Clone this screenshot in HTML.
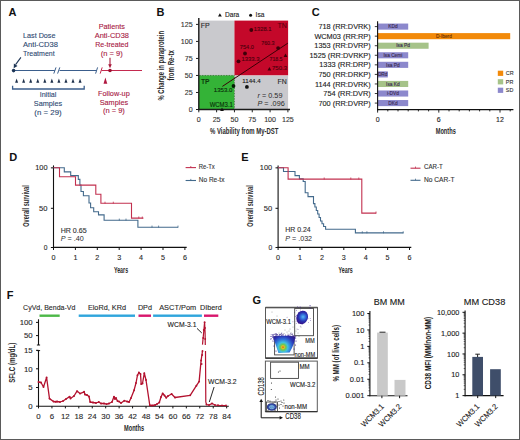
<!DOCTYPE html>
<html><head><meta charset="utf-8"><style>
html,body{margin:0;padding:0;background:#fff;}
body{width:520px;height:440px;overflow:hidden;}
svg{display:block;font-family:"Liberation Sans", sans-serif;}
</style></head><body>
<svg width="520" height="440" viewBox="0 0 520 440">
<rect x="0" y="0" width="520" height="440" fill="#fff"/>
<text x="8.60" y="16.00" font-size="11" fill="#111" font-weight="bold">A</text>
<text x="23.00" y="37.50" font-size="7.9" fill="#2f4a72" stroke="#2f4a72" stroke-width="0.12" textLength="32.50" lengthAdjust="spacingAndGlyphs">Last Dose</text>
<text x="23.00" y="46.80" font-size="7.9" fill="#2f4a72" stroke="#2f4a72" stroke-width="0.12" textLength="35.00" lengthAdjust="spacingAndGlyphs">Anti-CD38</text>
<text x="23.00" y="55.80" font-size="7.9" fill="#2f4a72" stroke="#2f4a72" stroke-width="0.12" textLength="31.60" lengthAdjust="spacingAndGlyphs">Treatment</text>
<line x1="20.90" y1="57.40" x2="15.60" y2="64.60" stroke="#1f3656" stroke-width="1.1"/>
<path d="M13.7,68.2 L13.9,63.6 L17.5,66.1 Z" fill="#1f3656"/>
<line x1="13.50" y1="70.50" x2="54.80" y2="70.50" stroke="#3b5e8c" stroke-width="1.2"/>
<line x1="59.50" y1="70.50" x2="96.50" y2="70.50" stroke="#3b5e8c" stroke-width="1.2"/>
<line x1="53.80" y1="73.60" x2="56.00" y2="67.40" stroke="#3b5e8c" stroke-width="1"/>
<line x1="57.60" y1="73.60" x2="59.80" y2="67.40" stroke="#3b5e8c" stroke-width="1"/>
<line x1="95.60" y1="73.60" x2="97.60" y2="67.40" stroke="#3b5e8c" stroke-width="1"/>
<line x1="100.20" y1="73.60" x2="102.20" y2="67.40" stroke="#c42a4f" stroke-width="1"/>
<line x1="101.50" y1="70.50" x2="142.00" y2="70.50" stroke="#c42a4f" stroke-width="1.2"/>
<circle cx="13.60" cy="70.60" r="1.8" fill="#1d3557"/>
<line x1="110.00" y1="57.80" x2="110.00" y2="65.00" stroke="#a8183a" stroke-width="1.1"/>
<path d="M108.2,64.2 L111.8,64.2 L110,68.3 Z" fill="#a8183a"/>
<circle cx="110.00" cy="70.50" r="1.8" fill="#9c1030"/>
<path d="M15.10,82.70 L16.60,78.50 L18.10,82.70 Z" fill="#1d2f4a"/>
<path d="M22.15,82.70 L23.65,78.50 L25.15,82.70 Z" fill="#1d2f4a"/>
<path d="M29.20,82.70 L30.70,78.50 L32.20,82.70 Z" fill="#1d2f4a"/>
<path d="M36.25,82.70 L37.75,78.50 L39.25,82.70 Z" fill="#1d2f4a"/>
<path d="M43.30,82.70 L44.80,78.50 L46.30,82.70 Z" fill="#1d2f4a"/>
<path d="M50.35,82.70 L51.85,78.50 L53.35,82.70 Z" fill="#1d2f4a"/>
<path d="M57.40,82.70 L58.90,78.50 L60.40,82.70 Z" fill="#1d2f4a"/>
<path d="M64.45,82.70 L65.95,78.50 L67.45,82.70 Z" fill="#1d2f4a"/>
<path d="M71.50,82.70 L73.00,78.50 L74.50,82.70 Z" fill="#1d2f4a"/>
<path d="M78.55,82.70 L80.05,78.50 L81.55,82.70 Z" fill="#1d2f4a"/>
<path d="M12.6,85.8 V89 H84.2 V85.8" stroke="#3b5e8c" stroke-width="1.3" fill="none"/>
<text x="48.00" y="97.00" font-size="7.9" fill="#2f4a72" stroke="#2f4a72" stroke-width="0.12" text-anchor="middle" textLength="16.60" lengthAdjust="spacingAndGlyphs">Initial</text>
<text x="48.00" y="106.00" font-size="7.9" fill="#2f4a72" stroke="#2f4a72" stroke-width="0.12" text-anchor="middle" textLength="28.40" lengthAdjust="spacingAndGlyphs">Samples</text>
<text x="48.00" y="115.00" font-size="7.9" fill="#2f4a72" stroke="#2f4a72" stroke-width="0.12" text-anchor="middle" textLength="27.30" lengthAdjust="spacingAndGlyphs">(n = 29)</text>
<text x="111.80" y="28.80" font-size="7.9" fill="#a82044" stroke="#a82044" stroke-width="0.12" text-anchor="middle" textLength="26.30" lengthAdjust="spacingAndGlyphs">Patients</text>
<text x="111.80" y="37.70" font-size="7.9" fill="#a82044" stroke="#a82044" stroke-width="0.12" text-anchor="middle" textLength="34.20" lengthAdjust="spacingAndGlyphs">Anti-CD38</text>
<text x="111.80" y="46.50" font-size="7.9" fill="#a82044" stroke="#a82044" stroke-width="0.12" text-anchor="middle" textLength="33.30" lengthAdjust="spacingAndGlyphs">Re-treated</text>
<text x="111.80" y="55.60" font-size="7.9" fill="#a82044" stroke="#a82044" stroke-width="0.12" text-anchor="middle" textLength="22.00" lengthAdjust="spacingAndGlyphs">(n = 9)</text>
<path d="M103.50,83.80 L105.40,77.60 L107.30,83.80 Z" fill="#b01840"/>
<text x="113.90" y="95.70" font-size="7.9" fill="#a82044" stroke="#a82044" stroke-width="0.12" text-anchor="middle" textLength="31.70" lengthAdjust="spacingAndGlyphs">Follow-up</text>
<text x="113.90" y="104.50" font-size="7.9" fill="#a82044" stroke="#a82044" stroke-width="0.12" text-anchor="middle" textLength="28.40" lengthAdjust="spacingAndGlyphs">Samples</text>
<text x="113.90" y="113.30" font-size="7.9" fill="#a82044" stroke="#a82044" stroke-width="0.12" text-anchor="middle" textLength="22.00" lengthAdjust="spacingAndGlyphs">(n = 9)</text>
<text x="156.50" y="16.00" font-size="11" fill="#111" font-weight="bold">B</text>
<rect x="198.80" y="20.60" width="35.64" height="54.86" fill="#c9c9cd"/>
<rect x="234.44" y="20.60" width="53.66" height="54.86" fill="#c4082a"/>
<rect x="198.80" y="75.46" width="35.64" height="34.04" fill="#34b337"/>
<rect x="234.44" y="75.46" width="53.66" height="34.04" fill="#c9c9cd"/>
<line x1="198.80" y1="75.46" x2="234.44" y2="75.46" stroke="#1a5a1a" stroke-width="0.8" stroke-dasharray="0.8 0.8"/>
<line x1="234.44" y1="75.46" x2="234.44" y2="109.50" stroke="#1a5a1a" stroke-width="0.8" stroke-dasharray="0.8 0.8"/>
<line x1="234.44" y1="75.46" x2="288.10" y2="75.46" stroke="#e8a0a8" stroke-width="0.6" stroke-dasharray="0.8 0.8"/>
<line x1="198.80" y1="18.00" x2="198.80" y2="110.20" stroke="#1a1a1a" stroke-width="1.4"/>
<line x1="198.10" y1="109.50" x2="290.00" y2="109.50" stroke="#1a1a1a" stroke-width="1.4"/>
<line x1="196.00" y1="109.50" x2="198.80" y2="109.50" stroke="#222" stroke-width="1"/>
<text x="192.70" y="112.00" font-size="7.1" fill="#333" stroke="#333" stroke-width="0.12" text-anchor="end">0</text>
<line x1="198.80" y1="109.50" x2="198.80" y2="112.30" stroke="#222" stroke-width="1"/>
<text x="198.80" y="121.90" font-size="7.1" fill="#333" stroke="#333" stroke-width="0.12" text-anchor="middle">0</text>
<line x1="196.00" y1="92.48" x2="198.80" y2="92.48" stroke="#222" stroke-width="1"/>
<text x="192.70" y="94.98" font-size="7.1" fill="#333" stroke="#333" stroke-width="0.12" text-anchor="end">25</text>
<line x1="216.62" y1="109.50" x2="216.62" y2="112.30" stroke="#222" stroke-width="1"/>
<text x="216.62" y="121.90" font-size="7.1" fill="#333" stroke="#333" stroke-width="0.12" text-anchor="middle">25</text>
<line x1="196.00" y1="75.46" x2="198.80" y2="75.46" stroke="#222" stroke-width="1"/>
<text x="192.70" y="77.96" font-size="7.1" fill="#333" stroke="#333" stroke-width="0.12" text-anchor="end">50</text>
<line x1="234.44" y1="109.50" x2="234.44" y2="112.30" stroke="#222" stroke-width="1"/>
<text x="234.44" y="121.90" font-size="7.1" fill="#333" stroke="#333" stroke-width="0.12" text-anchor="middle">50</text>
<line x1="196.00" y1="58.44" x2="198.80" y2="58.44" stroke="#222" stroke-width="1"/>
<text x="192.70" y="60.94" font-size="7.1" fill="#333" stroke="#333" stroke-width="0.12" text-anchor="end">75</text>
<line x1="252.26" y1="109.50" x2="252.26" y2="112.30" stroke="#222" stroke-width="1"/>
<text x="252.26" y="121.90" font-size="7.1" fill="#333" stroke="#333" stroke-width="0.12" text-anchor="middle">75</text>
<line x1="196.00" y1="41.42" x2="198.80" y2="41.42" stroke="#222" stroke-width="1"/>
<text x="192.70" y="43.92" font-size="7.1" fill="#333" stroke="#333" stroke-width="0.12" text-anchor="end">100</text>
<line x1="270.08" y1="109.50" x2="270.08" y2="112.30" stroke="#222" stroke-width="1"/>
<text x="270.08" y="121.90" font-size="7.1" fill="#333" stroke="#333" stroke-width="0.12" text-anchor="middle">100</text>
<line x1="196.00" y1="24.40" x2="198.80" y2="24.40" stroke="#222" stroke-width="1"/>
<text x="192.70" y="26.90" font-size="7.1" fill="#333" stroke="#333" stroke-width="0.12" text-anchor="end">125</text>
<line x1="287.90" y1="109.50" x2="287.90" y2="112.30" stroke="#222" stroke-width="1"/>
<text x="287.90" y="121.90" font-size="7.1" fill="#333" stroke="#333" stroke-width="0.12" text-anchor="middle">125</text>
<line x1="222.40" y1="86.40" x2="287.80" y2="43.20" stroke="#3a0006" stroke-width="1"/>
<text x="200.80" y="27.90" font-size="7" fill="#2a2a2a" stroke="#2a2a2a" stroke-width="0.12">FP</text>
<text x="277.40" y="27.60" font-size="7" fill="#5a0010" stroke="#5a0010" stroke-width="0.12">TN</text>
<text x="201.00" y="83.50" font-size="7.2" fill="#0c3a0c" textLength="8.60" lengthAdjust="spacingAndGlyphs" font-weight="bold">TP</text>
<text x="277.40" y="83.50" font-size="7" fill="#2a2a2a" stroke="#2a2a2a" stroke-width="0.12">FN</text>
<path d="M218.00,16.60 L219.90,13.30 L221.80,16.60 Z" fill="#111"/>
<text x="225.00" y="17.00" font-size="6.6" fill="#222" stroke="#222" stroke-width="0.12">Dara</text>
<circle cx="250.60" cy="15.20" r="1.5" fill="#111"/>
<text x="255.60" y="17.20" font-size="6.6" fill="#222" stroke="#222" stroke-width="0.12">Isa</text>
<circle cx="251.30" cy="30.00" r="1.9" fill="#3d0008"/>
<circle cx="245.00" cy="53.50" r="1.9" fill="#3d0008"/>
<circle cx="238.50" cy="61.30" r="1.9" fill="#3d0008"/>
<circle cx="278.10" cy="48.10" r="1.9" fill="#3d0008"/>
<circle cx="233.50" cy="86.00" r="1.9" fill="#061f06"/>
<circle cx="246.90" cy="86.90" r="1.9" fill="#111"/>
<path d="M283.60,57.00 L285.50,53.40 L287.40,57.00 Z" fill="#3d0008"/>
<path d="M267.50,70.60 L269.40,67.00 L271.30,70.60 Z" fill="#3d0008"/>
<path d="M220.10,111.00 L222.00,107.60 L223.90,111.00 Z" fill="#111"/>
<text x="253.80" y="31.30" font-size="5.8" fill="#4a000c" stroke="#4a000c" stroke-width="0.12" textLength="17.60" lengthAdjust="spacingAndGlyphs">1328.1</text>
<text x="239.80" y="48.80" font-size="5.8" fill="#4a000c" stroke="#4a000c" stroke-width="0.12" textLength="14.00" lengthAdjust="spacingAndGlyphs">754.0</text>
<text x="241.50" y="60.50" font-size="5.8" fill="#4a000c" stroke="#4a000c" stroke-width="0.12" textLength="18.00" lengthAdjust="spacingAndGlyphs">1333.3</text>
<text x="261.20" y="45.30" font-size="5.8" fill="#4a000c" stroke="#4a000c" stroke-width="0.12" textLength="13.30" lengthAdjust="spacingAndGlyphs">760.3</text>
<text x="269.50" y="60.80" font-size="5.8" fill="#4a000c" stroke="#4a000c" stroke-width="0.12" textLength="13.00" lengthAdjust="spacingAndGlyphs">718.5</text>
<text x="272.00" y="70.00" font-size="5.8" fill="#4a000c" stroke="#4a000c" stroke-width="0.12" textLength="15.00" lengthAdjust="spacingAndGlyphs">750.3</text>
<text x="213.80" y="92.30" font-size="5.8" fill="#082e08" stroke="#082e08" stroke-width="0.12" textLength="18.50" lengthAdjust="spacingAndGlyphs">1353.0</text>
<text x="209.70" y="107.10" font-size="6.6" fill="#082e08" stroke="#082e08" stroke-width="0.12" textLength="23.20" lengthAdjust="spacingAndGlyphs">WCM3.1</text>
<text x="242.30" y="83.10" font-size="5.8" fill="#1a1a1a" stroke="#1a1a1a" stroke-width="0.12" textLength="18.30" lengthAdjust="spacingAndGlyphs">1144.4</text>
<text x="257.5" y="97.5" font-size="7.2" fill="#2a2a2a" textLength="25" lengthAdjust="spacingAndGlyphs"><tspan font-style="italic">r</tspan> = 0.59</text>
<text x="257.5" y="106.3" font-size="7.2" fill="#2a2a2a" textLength="27.2" lengthAdjust="spacingAndGlyphs"><tspan font-style="italic">P</tspan> = .096</text>
<text x="210.00" y="134.40" font-size="8.8" fill="#2a2a2a" textLength="68.50" lengthAdjust="spacingAndGlyphs" font-weight="bold">% Viability from My-DST</text>
<text x="164.30" y="100.60" font-size="8.6" fill="#2a2a2a" textLength="69.70" lengthAdjust="spacingAndGlyphs" font-weight="bold" transform="rotate(-90 164.30 100.60)">% Change in paraprotein</text>
<text x="174.00" y="80.50" font-size="8.6" fill="#2a2a2a" textLength="30.30" lengthAdjust="spacingAndGlyphs" font-weight="bold" transform="rotate(-90 174.00 80.50)">from Re-tx</text>
<text x="311.80" y="16.00" font-size="11" fill="#111" font-weight="bold">C</text>
<rect x="377.60" y="23.55" width="30.60" height="6.10" fill="#8c88cc"/>
<text x="370.70" y="29.20" font-size="7.35" fill="#222" stroke="#222" stroke-width="0.12" text-anchor="end">718 (RR:DVRK)</text>
<line x1="374.80" y1="26.60" x2="377.60" y2="26.60" stroke="#222" stroke-width="0.9"/>
<text x="392.90" y="28.30" font-size="4.8" fill="#3a2a50" stroke="#3a2a50" stroke-width="0.12" text-anchor="middle">KDd</text>
<rect x="377.60" y="33.11" width="132.60" height="6.10" fill="#f28a0a"/>
<text x="370.70" y="38.76" font-size="7.35" fill="#222" stroke="#222" stroke-width="0.12" text-anchor="end">WCM03 (RR:RP)</text>
<line x1="374.80" y1="36.16" x2="377.60" y2="36.16" stroke="#222" stroke-width="0.9"/>
<text x="443.90" y="37.86" font-size="4.8" fill="#6a3000" stroke="#6a3000" stroke-width="0.12" text-anchor="middle">D-Iberd</text>
<rect x="377.60" y="42.67" width="51.00" height="6.10" fill="#a6c389"/>
<text x="370.70" y="48.32" font-size="7.35" fill="#222" stroke="#222" stroke-width="0.12" text-anchor="end">1353 (RR:DVRP)</text>
<line x1="374.80" y1="45.72" x2="377.60" y2="45.72" stroke="#222" stroke-width="0.9"/>
<text x="403.10" y="47.42" font-size="4.8" fill="#3a2a50" stroke="#3a2a50" stroke-width="0.12" text-anchor="middle">Isa Pd</text>
<rect x="377.60" y="52.23" width="30.60" height="6.10" fill="#8c88cc"/>
<text x="370.70" y="57.88" font-size="7.35" fill="#222" stroke="#222" stroke-width="0.12" text-anchor="end">1525 (RR:DVRKP)</text>
<line x1="374.80" y1="55.28" x2="377.60" y2="55.28" stroke="#222" stroke-width="0.9"/>
<text x="392.90" y="56.98" font-size="4.8" fill="#3a2a50" stroke="#3a2a50" stroke-width="0.12" text-anchor="middle">Isa Cemi</text>
<rect x="377.60" y="61.79" width="30.60" height="6.10" fill="#8c88cc"/>
<text x="370.70" y="67.44" font-size="7.35" fill="#222" stroke="#222" stroke-width="0.12" text-anchor="end">1333 (RR:DRP)</text>
<line x1="374.80" y1="64.84" x2="377.60" y2="64.84" stroke="#222" stroke-width="0.9"/>
<text x="392.90" y="66.54" font-size="4.8" fill="#3a2a50" stroke="#3a2a50" stroke-width="0.12" text-anchor="middle">Isa Pd</text>
<rect x="377.60" y="71.35" width="10.20" height="6.10" fill="#8c88cc"/>
<text x="370.70" y="77.00" font-size="7.35" fill="#222" stroke="#222" stroke-width="0.12" text-anchor="end">750 (RR:DRKP)</text>
<line x1="374.80" y1="74.40" x2="377.60" y2="74.40" stroke="#222" stroke-width="0.9"/>
<text x="382.70" y="76.10" font-size="4.8" fill="#3a2a50" stroke="#3a2a50" stroke-width="0.12" text-anchor="middle">DRd</text>
<rect x="377.60" y="80.91" width="30.60" height="6.10" fill="#a6c389"/>
<text x="370.70" y="86.56" font-size="7.35" fill="#222" stroke="#222" stroke-width="0.12" text-anchor="end">1144 (RR:DVRK)</text>
<line x1="374.80" y1="83.96" x2="377.60" y2="83.96" stroke="#222" stroke-width="0.9"/>
<text x="392.90" y="85.66" font-size="4.8" fill="#3a2a50" stroke="#3a2a50" stroke-width="0.12" text-anchor="middle">Isa Kd</text>
<rect x="377.60" y="90.47" width="30.60" height="6.10" fill="#8c88cc"/>
<text x="370.70" y="96.12" font-size="7.35" fill="#222" stroke="#222" stroke-width="0.12" text-anchor="end">754 (RR:DVR)</text>
<line x1="374.80" y1="93.52" x2="377.60" y2="93.52" stroke="#222" stroke-width="0.9"/>
<text x="392.90" y="95.22" font-size="4.8" fill="#3a2a50" stroke="#3a2a50" stroke-width="0.12" text-anchor="middle">i-DVd</text>
<rect x="377.60" y="100.03" width="30.60" height="6.10" fill="#8c88cc"/>
<text x="370.70" y="105.68" font-size="7.35" fill="#222" stroke="#222" stroke-width="0.12" text-anchor="end">700 (RR:DVRP)</text>
<line x1="374.80" y1="103.08" x2="377.60" y2="103.08" stroke="#222" stroke-width="0.9"/>
<text x="392.90" y="104.78" font-size="4.8" fill="#3a2a50" stroke="#3a2a50" stroke-width="0.12" text-anchor="middle">DKd</text>
<line x1="377.60" y1="21.20" x2="377.60" y2="110.20" stroke="#111" stroke-width="1.1"/>
<line x1="377.10" y1="109.60" x2="513.40" y2="109.60" stroke="#111" stroke-width="1.1"/>
<line x1="377.60" y1="109.60" x2="377.60" y2="112.60" stroke="#111" stroke-width="0.9"/>
<line x1="387.80" y1="109.60" x2="387.80" y2="111.40" stroke="#111" stroke-width="0.9"/>
<line x1="398.00" y1="109.60" x2="398.00" y2="111.40" stroke="#111" stroke-width="0.9"/>
<line x1="408.20" y1="109.60" x2="408.20" y2="111.40" stroke="#111" stroke-width="0.9"/>
<line x1="418.40" y1="109.60" x2="418.40" y2="111.40" stroke="#111" stroke-width="0.9"/>
<line x1="428.60" y1="109.60" x2="428.60" y2="111.40" stroke="#111" stroke-width="0.9"/>
<line x1="438.80" y1="109.60" x2="438.80" y2="112.60" stroke="#111" stroke-width="0.9"/>
<line x1="449.00" y1="109.60" x2="449.00" y2="111.40" stroke="#111" stroke-width="0.9"/>
<line x1="459.20" y1="109.60" x2="459.20" y2="111.40" stroke="#111" stroke-width="0.9"/>
<line x1="469.40" y1="109.60" x2="469.40" y2="111.40" stroke="#111" stroke-width="0.9"/>
<line x1="479.60" y1="109.60" x2="479.60" y2="111.40" stroke="#111" stroke-width="0.9"/>
<line x1="489.80" y1="109.60" x2="489.80" y2="111.40" stroke="#111" stroke-width="0.9"/>
<line x1="500.00" y1="109.60" x2="500.00" y2="112.60" stroke="#111" stroke-width="0.9"/>
<line x1="510.20" y1="109.60" x2="510.20" y2="111.40" stroke="#111" stroke-width="0.9"/>
<text x="377.60" y="121.50" font-size="7" fill="#222" stroke="#222" stroke-width="0.12" text-anchor="middle">0</text>
<text x="438.80" y="121.50" font-size="7" fill="#222" stroke="#222" stroke-width="0.12" text-anchor="middle">6</text>
<text x="500.00" y="121.50" font-size="7" fill="#222" stroke="#222" stroke-width="0.12" text-anchor="middle">12</text>
<text x="435.70" y="134.40" font-size="8.4" fill="#2a2a2a" textLength="20.10" lengthAdjust="spacingAndGlyphs" font-weight="bold">Months</text>
<rect x="497.80" y="70.70" width="5.40" height="5.20" fill="#f28a0a"/>
<text x="505.80" y="75.20" font-size="5.4" fill="#333" stroke="#333" stroke-width="0.12">CR</text>
<rect x="497.80" y="79.20" width="5.40" height="5.20" fill="#a6c389"/>
<text x="505.80" y="83.70" font-size="5.4" fill="#333" stroke="#333" stroke-width="0.12">PR</text>
<rect x="497.80" y="87.70" width="5.40" height="5.20" fill="#8c88cc"/>
<text x="505.80" y="92.20" font-size="5.4" fill="#333" stroke="#333" stroke-width="0.12">SD</text>
<text x="9.30" y="161.00" font-size="11" fill="#111" font-weight="bold">D</text>
<line x1="53.50" y1="165.40" x2="53.50" y2="248.00" stroke="#111" stroke-width="1.1"/>
<line x1="53.00" y1="247.40" x2="186.70" y2="247.40" stroke="#111" stroke-width="1.1"/>
<line x1="50.90" y1="167.85" x2="53.50" y2="167.85" stroke="#111" stroke-width="1"/>
<text x="47.50" y="170.35" font-size="7.2" fill="#2a2a2a" stroke="#2a2a2a" stroke-width="0.12" text-anchor="end" textLength="12.30" lengthAdjust="spacingAndGlyphs">100</text>
<line x1="50.90" y1="208.30" x2="53.50" y2="208.30" stroke="#111" stroke-width="1"/>
<text x="47.50" y="210.80" font-size="7.2" fill="#2a2a2a" stroke="#2a2a2a" stroke-width="0.12" text-anchor="end" textLength="8.40" lengthAdjust="spacingAndGlyphs">50</text>
<line x1="50.90" y1="247.50" x2="53.50" y2="247.50" stroke="#111" stroke-width="1"/>
<text x="47.50" y="250.00" font-size="7.2" fill="#2a2a2a" stroke="#2a2a2a" stroke-width="0.12" text-anchor="end" textLength="3.70" lengthAdjust="spacingAndGlyphs">0</text>
<line x1="53.50" y1="247.40" x2="53.50" y2="250.00" stroke="#111" stroke-width="1"/>
<text x="53.50" y="259.60" font-size="7.2" fill="#2a2a2a" stroke="#2a2a2a" stroke-width="0.12" text-anchor="middle">0</text>
<line x1="75.40" y1="247.40" x2="75.40" y2="250.00" stroke="#111" stroke-width="1"/>
<text x="75.40" y="259.60" font-size="7.2" fill="#2a2a2a" stroke="#2a2a2a" stroke-width="0.12" text-anchor="middle">1</text>
<line x1="97.30" y1="247.40" x2="97.30" y2="250.00" stroke="#111" stroke-width="1"/>
<text x="97.30" y="259.60" font-size="7.2" fill="#2a2a2a" stroke="#2a2a2a" stroke-width="0.12" text-anchor="middle">2</text>
<line x1="119.20" y1="247.40" x2="119.20" y2="250.00" stroke="#111" stroke-width="1"/>
<text x="119.20" y="259.60" font-size="7.2" fill="#2a2a2a" stroke="#2a2a2a" stroke-width="0.12" text-anchor="middle">3</text>
<line x1="141.10" y1="247.40" x2="141.10" y2="250.00" stroke="#111" stroke-width="1"/>
<text x="141.10" y="259.60" font-size="7.2" fill="#2a2a2a" stroke="#2a2a2a" stroke-width="0.12" text-anchor="middle">4</text>
<line x1="163.00" y1="247.40" x2="163.00" y2="250.00" stroke="#111" stroke-width="1"/>
<text x="163.00" y="259.60" font-size="7.2" fill="#2a2a2a" stroke="#2a2a2a" stroke-width="0.12" text-anchor="middle">5</text>
<line x1="184.90" y1="247.40" x2="184.90" y2="250.00" stroke="#111" stroke-width="1"/>
<text x="184.90" y="259.60" font-size="7.2" fill="#2a2a2a" stroke="#2a2a2a" stroke-width="0.12" text-anchor="middle">6</text>
<text x="113.90" y="272.70" font-size="8.4" fill="#2a2a2a" textLength="14.20" lengthAdjust="spacingAndGlyphs" font-weight="bold">Years</text>
<text x="28.90" y="226.70" font-size="8.4" fill="#2a2a2a" textLength="41.40" lengthAdjust="spacingAndGlyphs" font-weight="bold" transform="rotate(-90 28.90 226.70)">Overall survival</text>
<path d="M53.50,167.70 L64.30,167.70 L64.30,171.90 L70.70,171.90 L70.70,175.60 L78.30,175.60 L78.30,179.40 L79.90,179.40 L79.90,185.10 L81.00,185.10 L81.00,191.50 L83.40,191.50 L83.40,195.80 L89.00,195.80 L89.00,203.00 L90.60,203.00 L90.60,207.70 L93.70,207.70 L93.70,211.70 L98.50,211.70 L98.50,214.90 L104.10,214.90 L104.10,220.20 L137.90,220.20 L137.90,227.20 L178.10,227.20" stroke="#436a8c" stroke-width="1.1" fill="none"/>
<path d="M53.50,167.70 L59.50,167.70 L59.50,176.70 L75.50,176.70 L75.50,185.10 L95.80,185.10 L95.80,194.20 L100.90,194.20 L100.90,203.30 L131.50,203.30 L131.50,218.10 L143.40,218.10" stroke="#c2304f" stroke-width="1.1" fill="none"/>
<line x1="105.00" y1="201.70" x2="105.00" y2="203.70" stroke="#c2304f" stroke-width="0.8"/>
<line x1="113.30" y1="201.70" x2="113.30" y2="203.70" stroke="#c2304f" stroke-width="0.8"/>
<line x1="138.80" y1="216.50" x2="138.80" y2="218.50" stroke="#c2304f" stroke-width="0.8"/>
<line x1="142.30" y1="216.50" x2="142.30" y2="218.50" stroke="#c2304f" stroke-width="0.8"/>
<line x1="119.30" y1="218.60" x2="119.30" y2="220.60" stroke="#436a8c" stroke-width="0.8"/>
<line x1="126.00" y1="218.60" x2="126.00" y2="220.60" stroke="#436a8c" stroke-width="0.8"/>
<line x1="152.00" y1="225.60" x2="152.00" y2="227.60" stroke="#436a8c" stroke-width="0.8"/>
<line x1="158.60" y1="225.60" x2="158.60" y2="227.60" stroke="#436a8c" stroke-width="0.8"/>
<line x1="178.00" y1="225.60" x2="178.00" y2="227.60" stroke="#436a8c" stroke-width="0.8"/>
<text x="60.70" y="233.20" font-size="6.8" fill="#333" stroke="#333" stroke-width="0.12" textLength="25.90" lengthAdjust="spacingAndGlyphs">HR 0.65</text>
<text x="60.7" y="241" font-size="7" fill="#2a2a2a" textLength="23" lengthAdjust="spacingAndGlyphs"><tspan font-style="italic">P</tspan> = .40</text>
<line x1="185.60" y1="167.60" x2="196.00" y2="167.60" stroke="#c2304f" stroke-width="1.1"/>
<line x1="190.80" y1="166.00" x2="190.80" y2="167.60" stroke="#c2304f" stroke-width="0.8"/>
<text x="198.80" y="169.20" font-size="6.8" fill="#333" stroke="#333" stroke-width="0.12" textLength="16.00" lengthAdjust="spacingAndGlyphs">Re-Tx</text>
<line x1="185.60" y1="180.50" x2="196.00" y2="180.50" stroke="#436a8c" stroke-width="1.1"/>
<line x1="190.80" y1="178.90" x2="190.80" y2="180.50" stroke="#436a8c" stroke-width="0.8"/>
<text x="198.80" y="182.00" font-size="6.8" fill="#333" stroke="#333" stroke-width="0.12" textLength="25.60" lengthAdjust="spacingAndGlyphs">No Re-tx</text>
<text x="241.20" y="161.00" font-size="11" fill="#111" font-weight="bold">E</text>
<line x1="278.10" y1="165.40" x2="278.10" y2="248.00" stroke="#111" stroke-width="1.1"/>
<line x1="277.60" y1="247.40" x2="411.30" y2="247.40" stroke="#111" stroke-width="1.1"/>
<line x1="275.50" y1="167.85" x2="278.10" y2="167.85" stroke="#111" stroke-width="1"/>
<text x="272.10" y="170.35" font-size="7.2" fill="#2a2a2a" stroke="#2a2a2a" stroke-width="0.12" text-anchor="end" textLength="12.30" lengthAdjust="spacingAndGlyphs">100</text>
<line x1="275.50" y1="208.30" x2="278.10" y2="208.30" stroke="#111" stroke-width="1"/>
<text x="272.10" y="210.80" font-size="7.2" fill="#2a2a2a" stroke="#2a2a2a" stroke-width="0.12" text-anchor="end" textLength="8.40" lengthAdjust="spacingAndGlyphs">50</text>
<line x1="275.50" y1="247.50" x2="278.10" y2="247.50" stroke="#111" stroke-width="1"/>
<text x="272.10" y="250.00" font-size="7.2" fill="#2a2a2a" stroke="#2a2a2a" stroke-width="0.12" text-anchor="end" textLength="3.70" lengthAdjust="spacingAndGlyphs">0</text>
<line x1="278.10" y1="247.40" x2="278.10" y2="250.00" stroke="#111" stroke-width="1"/>
<text x="278.10" y="259.60" font-size="7.2" fill="#2a2a2a" stroke="#2a2a2a" stroke-width="0.12" text-anchor="middle">0</text>
<line x1="300.00" y1="247.40" x2="300.00" y2="250.00" stroke="#111" stroke-width="1"/>
<text x="300.00" y="259.60" font-size="7.2" fill="#2a2a2a" stroke="#2a2a2a" stroke-width="0.12" text-anchor="middle">1</text>
<line x1="321.90" y1="247.40" x2="321.90" y2="250.00" stroke="#111" stroke-width="1"/>
<text x="321.90" y="259.60" font-size="7.2" fill="#2a2a2a" stroke="#2a2a2a" stroke-width="0.12" text-anchor="middle">2</text>
<line x1="343.80" y1="247.40" x2="343.80" y2="250.00" stroke="#111" stroke-width="1"/>
<text x="343.80" y="259.60" font-size="7.2" fill="#2a2a2a" stroke="#2a2a2a" stroke-width="0.12" text-anchor="middle">3</text>
<line x1="365.70" y1="247.40" x2="365.70" y2="250.00" stroke="#111" stroke-width="1"/>
<text x="365.70" y="259.60" font-size="7.2" fill="#2a2a2a" stroke="#2a2a2a" stroke-width="0.12" text-anchor="middle">4</text>
<line x1="387.60" y1="247.40" x2="387.60" y2="250.00" stroke="#111" stroke-width="1"/>
<text x="387.60" y="259.60" font-size="7.2" fill="#2a2a2a" stroke="#2a2a2a" stroke-width="0.12" text-anchor="middle">5</text>
<line x1="409.50" y1="247.40" x2="409.50" y2="250.00" stroke="#111" stroke-width="1"/>
<text x="409.50" y="259.60" font-size="7.2" fill="#2a2a2a" stroke="#2a2a2a" stroke-width="0.12" text-anchor="middle">6</text>
<text x="338.50" y="272.70" font-size="8.4" fill="#2a2a2a" textLength="14.20" lengthAdjust="spacingAndGlyphs" font-weight="bold">Years</text>
<text x="253.50" y="226.70" font-size="8.4" fill="#2a2a2a" textLength="41.40" lengthAdjust="spacingAndGlyphs" font-weight="bold" transform="rotate(-90 253.50 226.70)">Overall survival</text>
<path d="M278.10,167.70 L283.50,167.70 L283.50,171.50 L295.00,171.50 L295.00,175.60 L299.40,175.60 L299.40,178.90 L303.20,178.90 L303.20,181.50 L305.20,181.50 L305.20,192.70 L308.00,192.70 L308.00,196.60 L313.50,196.60 L313.50,203.60 L314.90,203.60 L314.90,207.00 L316.30,207.00 L316.30,210.50 L317.70,210.50 L317.70,214.00 L319.10,214.00 L319.10,217.50 L320.50,217.50 L320.50,221.00 L322.00,221.00 L322.00,223.80 L323.60,223.80 L323.60,226.50 L325.60,226.50 L325.60,229.20 L355.40,229.20 L355.40,232.90 L403.40,232.90" stroke="#436a8c" stroke-width="1.1" fill="none"/>
<path d="M278.10,167.70 L288.10,167.70 L288.10,179.10 L361.80,179.10 L361.80,213.10 L376.20,213.10" stroke="#c2304f" stroke-width="1.1" fill="none"/>
<line x1="324.20" y1="177.50" x2="324.20" y2="179.50" stroke="#c2304f" stroke-width="0.8"/>
<line x1="350.80" y1="177.50" x2="350.80" y2="179.50" stroke="#c2304f" stroke-width="0.8"/>
<line x1="358.80" y1="177.50" x2="358.80" y2="179.50" stroke="#c2304f" stroke-width="0.8"/>
<line x1="376.00" y1="211.50" x2="376.00" y2="213.50" stroke="#c2304f" stroke-width="0.8"/>
<line x1="362.30" y1="231.30" x2="362.30" y2="233.30" stroke="#436a8c" stroke-width="0.8"/>
<line x1="366.90" y1="231.30" x2="366.90" y2="233.30" stroke="#436a8c" stroke-width="0.8"/>
<line x1="383.50" y1="231.30" x2="383.50" y2="233.30" stroke="#436a8c" stroke-width="0.8"/>
<line x1="403.20" y1="231.30" x2="403.20" y2="233.30" stroke="#436a8c" stroke-width="0.8"/>
<text x="285.30" y="232.30" font-size="6.8" fill="#333" stroke="#333" stroke-width="0.12" textLength="25.40" lengthAdjust="spacingAndGlyphs">HR 0.24</text>
<text x="285.3" y="240.6" font-size="7" fill="#2a2a2a" textLength="26.8" lengthAdjust="spacingAndGlyphs"><tspan font-style="italic">P</tspan> = .032</text>
<line x1="410.50" y1="168.20" x2="420.50" y2="168.20" stroke="#c2304f" stroke-width="1.1"/>
<line x1="415.50" y1="166.60" x2="415.50" y2="168.20" stroke="#c2304f" stroke-width="0.8"/>
<text x="424.00" y="169.40" font-size="6.8" fill="#333" stroke="#333" stroke-width="0.12" textLength="18.80" lengthAdjust="spacingAndGlyphs">CAR-T</text>
<line x1="410.50" y1="180.30" x2="420.50" y2="180.30" stroke="#436a8c" stroke-width="1.1"/>
<line x1="415.50" y1="178.70" x2="415.50" y2="180.30" stroke="#436a8c" stroke-width="0.8"/>
<text x="424.00" y="181.70" font-size="6.8" fill="#333" stroke="#333" stroke-width="0.12" textLength="30.50" lengthAdjust="spacingAndGlyphs">No CAR-T</text>
<text x="6.80" y="298.60" font-size="11" fill="#111" font-weight="bold">F</text>
<text x="23.10" y="309.70" font-size="7.9" fill="#2a2a2a" stroke="#2a2a2a" stroke-width="0.12" textLength="52.30" lengthAdjust="spacingAndGlyphs">CyVd, Benda-Vd</text>
<text x="87.90" y="309.70" font-size="7.9" fill="#2a2a2a" stroke="#2a2a2a" stroke-width="0.12" textLength="38.10" lengthAdjust="spacingAndGlyphs">EloRd, KRd</text>
<text x="137.90" y="309.70" font-size="7.9" fill="#2a2a2a" stroke="#2a2a2a" stroke-width="0.12" textLength="14.00" lengthAdjust="spacingAndGlyphs">DPd</text>
<text x="159.20" y="309.70" font-size="7.9" fill="#2a2a2a" stroke="#2a2a2a" stroke-width="0.12" textLength="37.00" lengthAdjust="spacingAndGlyphs">ASCT/Pom</text>
<text x="200.00" y="309.70" font-size="7.9" fill="#2a2a2a" stroke="#2a2a2a" stroke-width="0.12" textLength="21.70" lengthAdjust="spacingAndGlyphs">DIberd</text>
<rect x="39.50" y="314.50" width="20.20" height="2.40" fill="#4db848"/>
<rect x="78.70" y="314.50" width="56.30" height="2.40" fill="#2fa5dc"/>
<rect x="138.50" y="314.50" width="12.50" height="2.40" fill="#d8166c"/>
<rect x="153.10" y="314.50" width="48.80" height="2.40" fill="#2fa5dc"/>
<rect x="204.00" y="314.50" width="14.30" height="2.40" fill="#d8166c"/>
<line x1="38.50" y1="319.30" x2="38.50" y2="345.00" stroke="#111" stroke-width="1.1"/>
<line x1="36.90" y1="345.00" x2="40.10" y2="345.00" stroke="#111" stroke-width="1"/>
<line x1="38.50" y1="350.60" x2="38.50" y2="406.80" stroke="#111" stroke-width="1.1"/>
<line x1="36.90" y1="350.60" x2="40.10" y2="350.60" stroke="#111" stroke-width="1"/>
<line x1="38.00" y1="406.20" x2="228.80" y2="406.20" stroke="#111" stroke-width="1.1"/>
<line x1="36.00" y1="322.40" x2="38.50" y2="322.40" stroke="#111" stroke-width="1"/>
<text x="32.70" y="325.10" font-size="7.8" fill="#2a2a2a" stroke="#2a2a2a" stroke-width="0.12" text-anchor="end">100</text>
<line x1="36.00" y1="335.60" x2="38.50" y2="335.60" stroke="#111" stroke-width="1"/>
<text x="32.70" y="338.30" font-size="7.8" fill="#2a2a2a" stroke="#2a2a2a" stroke-width="0.12" text-anchor="end">50</text>
<line x1="36.00" y1="350.30" x2="38.50" y2="350.30" stroke="#111" stroke-width="1"/>
<text x="32.70" y="353.00" font-size="7.8" fill="#2a2a2a" stroke="#2a2a2a" stroke-width="0.12" text-anchor="end">15</text>
<line x1="36.00" y1="368.80" x2="38.50" y2="368.80" stroke="#111" stroke-width="1"/>
<text x="32.70" y="371.50" font-size="7.8" fill="#2a2a2a" stroke="#2a2a2a" stroke-width="0.12" text-anchor="end">10</text>
<line x1="36.00" y1="387.50" x2="38.50" y2="387.50" stroke="#111" stroke-width="1"/>
<text x="32.70" y="390.20" font-size="7.8" fill="#2a2a2a" stroke="#2a2a2a" stroke-width="0.12" text-anchor="end">5</text>
<line x1="36.00" y1="406.20" x2="38.50" y2="406.20" stroke="#111" stroke-width="1"/>
<text x="32.70" y="408.90" font-size="7.8" fill="#2a2a2a" stroke="#2a2a2a" stroke-width="0.12" text-anchor="end">0</text>
<line x1="38.50" y1="406.20" x2="38.50" y2="408.40" stroke="#111" stroke-width="1"/>
<text x="38.50" y="418.70" font-size="7.9" fill="#2a2a2a" stroke="#2a2a2a" stroke-width="0.12" text-anchor="middle">0</text>
<line x1="51.94" y1="406.20" x2="51.94" y2="408.40" stroke="#111" stroke-width="1"/>
<text x="51.94" y="418.70" font-size="7.9" fill="#2a2a2a" stroke="#2a2a2a" stroke-width="0.12" text-anchor="middle">6</text>
<line x1="65.38" y1="406.20" x2="65.38" y2="408.40" stroke="#111" stroke-width="1"/>
<text x="65.38" y="418.70" font-size="7.9" fill="#2a2a2a" stroke="#2a2a2a" stroke-width="0.12" text-anchor="middle">12</text>
<line x1="78.82" y1="406.20" x2="78.82" y2="408.40" stroke="#111" stroke-width="1"/>
<text x="78.82" y="418.70" font-size="7.9" fill="#2a2a2a" stroke="#2a2a2a" stroke-width="0.12" text-anchor="middle">18</text>
<line x1="92.26" y1="406.20" x2="92.26" y2="408.40" stroke="#111" stroke-width="1"/>
<text x="92.26" y="418.70" font-size="7.9" fill="#2a2a2a" stroke="#2a2a2a" stroke-width="0.12" text-anchor="middle">24</text>
<line x1="105.70" y1="406.20" x2="105.70" y2="408.40" stroke="#111" stroke-width="1"/>
<text x="105.70" y="418.70" font-size="7.9" fill="#2a2a2a" stroke="#2a2a2a" stroke-width="0.12" text-anchor="middle">30</text>
<line x1="119.14" y1="406.20" x2="119.14" y2="408.40" stroke="#111" stroke-width="1"/>
<text x="119.14" y="418.70" font-size="7.9" fill="#2a2a2a" stroke="#2a2a2a" stroke-width="0.12" text-anchor="middle">36</text>
<line x1="132.58" y1="406.20" x2="132.58" y2="408.40" stroke="#111" stroke-width="1"/>
<text x="132.58" y="418.70" font-size="7.9" fill="#2a2a2a" stroke="#2a2a2a" stroke-width="0.12" text-anchor="middle">42</text>
<line x1="146.02" y1="406.20" x2="146.02" y2="408.40" stroke="#111" stroke-width="1"/>
<text x="146.02" y="418.70" font-size="7.9" fill="#2a2a2a" stroke="#2a2a2a" stroke-width="0.12" text-anchor="middle">48</text>
<line x1="159.46" y1="406.20" x2="159.46" y2="408.40" stroke="#111" stroke-width="1"/>
<text x="159.46" y="418.70" font-size="7.9" fill="#2a2a2a" stroke="#2a2a2a" stroke-width="0.12" text-anchor="middle">54</text>
<line x1="172.90" y1="406.20" x2="172.90" y2="408.40" stroke="#111" stroke-width="1"/>
<text x="172.90" y="418.70" font-size="7.9" fill="#2a2a2a" stroke="#2a2a2a" stroke-width="0.12" text-anchor="middle">60</text>
<line x1="186.34" y1="406.20" x2="186.34" y2="408.40" stroke="#111" stroke-width="1"/>
<text x="186.34" y="418.70" font-size="7.9" fill="#2a2a2a" stroke="#2a2a2a" stroke-width="0.12" text-anchor="middle">66</text>
<line x1="199.78" y1="406.20" x2="199.78" y2="408.40" stroke="#111" stroke-width="1"/>
<text x="199.78" y="418.70" font-size="7.9" fill="#2a2a2a" stroke="#2a2a2a" stroke-width="0.12" text-anchor="middle">72</text>
<line x1="213.22" y1="406.20" x2="213.22" y2="408.40" stroke="#111" stroke-width="1"/>
<text x="213.22" y="418.70" font-size="7.9" fill="#2a2a2a" stroke="#2a2a2a" stroke-width="0.12" text-anchor="middle">78</text>
<line x1="226.66" y1="406.20" x2="226.66" y2="408.40" stroke="#111" stroke-width="1"/>
<text x="226.66" y="418.70" font-size="7.9" fill="#2a2a2a" stroke="#2a2a2a" stroke-width="0.12" text-anchor="middle">84</text>
<text x="124.00" y="431.10" font-size="8.4" fill="#2a2a2a" textLength="20.10" lengthAdjust="spacingAndGlyphs" font-weight="bold">Months</text>
<text x="14.60" y="382.70" font-size="8.6" fill="#2a2a2a" textLength="40.00" lengthAdjust="spacingAndGlyphs" font-weight="bold" transform="rotate(-90 14.60 382.70)">SFLC (mg/dL)</text>
<path d="M38.50,382.00 L41.00,382.50 L43.50,387.00 L46.60,377.50 L49.50,398.60 L53.50,401.50 L55.50,401.80 L57.00,401.50 L60.00,402.00 L63.00,401.00 L66.00,399.00 L69.60,396.60 L70.50,398.50 L74.00,396.00 L77.00,391.10 L80.00,393.60 L84.10,391.80 L85.00,394.50 L87.00,395.00 L89.00,396.50 L90.20,402.00 L93.00,402.50 L96.00,403.00 L98.80,402.00 L101.00,403.50 L104.00,403.50 L106.60,404.10 L109.00,403.50 L112.00,402.00 L114.00,396.60 L115.00,399.00 L116.00,398.00 L117.50,401.00 L119.00,401.50 L121.00,403.00 L124.30,400.70 L127.00,401.50 L129.10,402.00 L131.00,398.00 L134.10,390.20 L136.00,383.00 L137.50,375.20 L138.90,372.50 L140.50,374.00 L141.20,384.10 L142.50,383.50 L144.30,373.20 L146.00,380.00 L149.80,405.30 L152.00,405.50 L155.20,405.00 L157.00,404.00 L159.30,402.50 L161.00,397.00 L162.70,393.40 L164.50,395.50 L166.20,397.70 L168.00,396.00 L171.60,394.00 L175.00,397.50 L190.20,395.30 L196.40,385.70 L199.10,381.60 L201.10,360.50 L202.50,351.00" stroke="#b3122f" stroke-width="1.3" fill="none" stroke-linejoin="round"/>
<path d="M202.5,344.6 L203.6,333 L204.6,322 L205.1,333 L205.3,345" stroke="#b3122f" stroke-width="1.2" fill="none"/>
<path d="M205.5,351 L205.8,402 L206.5,404.5 L209,405 L212,403.5 L215,405 L220,405.5 L226,405.5" stroke="#b3122f" stroke-width="1.2" fill="none"/>
<circle cx="204.60" cy="322.20" r="0.95" fill="#b3122f"/>
<circle cx="203.80" cy="330.00" r="0.95" fill="#b3122f"/>
<circle cx="205.00" cy="328.00" r="0.95" fill="#b3122f"/>
<circle cx="203.20" cy="338.00" r="0.95" fill="#b3122f"/>
<circle cx="205.20" cy="339.00" r="0.95" fill="#b3122f"/>
<circle cx="202.20" cy="355.00" r="0.95" fill="#b3122f"/>
<circle cx="201.60" cy="364.00" r="0.95" fill="#b3122f"/>
<circle cx="206.50" cy="404.50" r="0.95" fill="#b3122f"/>
<circle cx="209.00" cy="405.00" r="0.95" fill="#b3122f"/>
<circle cx="212.00" cy="403.50" r="0.95" fill="#b3122f"/>
<circle cx="215.00" cy="405.00" r="0.95" fill="#b3122f"/>
<circle cx="218.00" cy="405.30" r="0.95" fill="#b3122f"/>
<circle cx="222.00" cy="405.50" r="0.95" fill="#b3122f"/>
<circle cx="226.00" cy="405.50" r="0.95" fill="#b3122f"/>
<circle cx="38.50" cy="382.00" r="0.95" fill="#b3122f"/>
<circle cx="41.00" cy="382.50" r="0.95" fill="#b3122f"/>
<circle cx="43.50" cy="387.00" r="0.95" fill="#b3122f"/>
<circle cx="46.60" cy="377.50" r="0.95" fill="#b3122f"/>
<circle cx="49.50" cy="398.60" r="0.95" fill="#b3122f"/>
<circle cx="53.50" cy="401.50" r="0.95" fill="#b3122f"/>
<circle cx="55.50" cy="401.80" r="0.95" fill="#b3122f"/>
<circle cx="57.00" cy="401.50" r="0.95" fill="#b3122f"/>
<circle cx="60.00" cy="402.00" r="0.95" fill="#b3122f"/>
<circle cx="63.00" cy="401.00" r="0.95" fill="#b3122f"/>
<circle cx="66.00" cy="399.00" r="0.95" fill="#b3122f"/>
<circle cx="69.60" cy="396.60" r="0.95" fill="#b3122f"/>
<circle cx="70.50" cy="398.50" r="0.95" fill="#b3122f"/>
<circle cx="74.00" cy="396.00" r="0.95" fill="#b3122f"/>
<circle cx="77.00" cy="391.10" r="0.95" fill="#b3122f"/>
<circle cx="80.00" cy="393.60" r="0.95" fill="#b3122f"/>
<circle cx="84.10" cy="391.80" r="0.95" fill="#b3122f"/>
<circle cx="85.00" cy="394.50" r="0.95" fill="#b3122f"/>
<circle cx="87.00" cy="395.00" r="0.95" fill="#b3122f"/>
<circle cx="89.00" cy="396.50" r="0.95" fill="#b3122f"/>
<circle cx="90.20" cy="402.00" r="0.95" fill="#b3122f"/>
<circle cx="93.00" cy="402.50" r="0.95" fill="#b3122f"/>
<circle cx="96.00" cy="403.00" r="0.95" fill="#b3122f"/>
<circle cx="98.80" cy="402.00" r="0.95" fill="#b3122f"/>
<circle cx="101.00" cy="403.50" r="0.95" fill="#b3122f"/>
<circle cx="104.00" cy="403.50" r="0.95" fill="#b3122f"/>
<circle cx="106.60" cy="404.10" r="0.95" fill="#b3122f"/>
<circle cx="109.00" cy="403.50" r="0.95" fill="#b3122f"/>
<circle cx="112.00" cy="402.00" r="0.95" fill="#b3122f"/>
<circle cx="114.00" cy="396.60" r="0.95" fill="#b3122f"/>
<circle cx="115.00" cy="399.00" r="0.95" fill="#b3122f"/>
<circle cx="116.00" cy="398.00" r="0.95" fill="#b3122f"/>
<circle cx="117.50" cy="401.00" r="0.95" fill="#b3122f"/>
<circle cx="119.00" cy="401.50" r="0.95" fill="#b3122f"/>
<circle cx="121.00" cy="403.00" r="0.95" fill="#b3122f"/>
<circle cx="124.30" cy="400.70" r="0.95" fill="#b3122f"/>
<circle cx="127.00" cy="401.50" r="0.95" fill="#b3122f"/>
<circle cx="129.10" cy="402.00" r="0.95" fill="#b3122f"/>
<circle cx="131.00" cy="398.00" r="0.95" fill="#b3122f"/>
<circle cx="134.10" cy="390.20" r="0.95" fill="#b3122f"/>
<circle cx="136.00" cy="383.00" r="0.95" fill="#b3122f"/>
<circle cx="137.50" cy="375.20" r="0.95" fill="#b3122f"/>
<circle cx="138.90" cy="372.50" r="0.95" fill="#b3122f"/>
<circle cx="140.50" cy="374.00" r="0.95" fill="#b3122f"/>
<circle cx="141.20" cy="384.10" r="0.95" fill="#b3122f"/>
<circle cx="142.50" cy="383.50" r="0.95" fill="#b3122f"/>
<circle cx="144.30" cy="373.20" r="0.95" fill="#b3122f"/>
<circle cx="146.00" cy="380.00" r="0.95" fill="#b3122f"/>
<circle cx="149.80" cy="405.30" r="0.95" fill="#b3122f"/>
<circle cx="152.00" cy="405.50" r="0.95" fill="#b3122f"/>
<circle cx="155.20" cy="405.00" r="0.95" fill="#b3122f"/>
<circle cx="157.00" cy="404.00" r="0.95" fill="#b3122f"/>
<circle cx="159.30" cy="402.50" r="0.95" fill="#b3122f"/>
<circle cx="161.00" cy="397.00" r="0.95" fill="#b3122f"/>
<circle cx="162.70" cy="393.40" r="0.95" fill="#b3122f"/>
<circle cx="164.50" cy="395.50" r="0.95" fill="#b3122f"/>
<circle cx="166.20" cy="397.70" r="0.95" fill="#b3122f"/>
<circle cx="168.00" cy="396.00" r="0.95" fill="#b3122f"/>
<circle cx="171.60" cy="394.00" r="0.95" fill="#b3122f"/>
<circle cx="175.00" cy="397.50" r="0.95" fill="#b3122f"/>
<circle cx="190.20" cy="395.30" r="0.95" fill="#b3122f"/>
<circle cx="196.40" cy="385.70" r="0.95" fill="#b3122f"/>
<circle cx="199.10" cy="381.60" r="0.95" fill="#b3122f"/>
<circle cx="201.10" cy="360.50" r="0.95" fill="#b3122f"/>
<circle cx="202.50" cy="351.00" r="0.95" fill="#b3122f"/>
<text x="167.60" y="327.30" font-size="7.4" fill="#1a1a1a" stroke="#1a1a1a" stroke-width="0.12" textLength="28.90" lengthAdjust="spacingAndGlyphs">WCM-3.1</text>
<line x1="197.00" y1="328.40" x2="201.80" y2="333.00" stroke="#111" stroke-width="0.9"/>
<text x="208.00" y="384.40" font-size="7.4" fill="#1a1a1a" stroke="#1a1a1a" stroke-width="0.12" textLength="28.60" lengthAdjust="spacingAndGlyphs">WCM-3.2</text>
<line x1="214.10" y1="387.00" x2="209.30" y2="402.00" stroke="#111" stroke-width="0.9"/>
<text x="252.40" y="303.70" font-size="11" fill="#111" font-weight="bold">G</text>
<defs>
<radialGradient id="gmm" gradientUnits="userSpaceOnUse" cx="302.8" cy="316.6" r="7.2">
<stop offset="0" stop-color="#5ab8f0"/><stop offset="0.3" stop-color="#3478e0"/><stop offset="0.62" stop-color="#2a32b0"/><stop offset="1" stop-color="#32128a"/></radialGradient>
<radialGradient id="gnm" gradientUnits="userSpaceOnUse" cx="283" cy="347.2" r="16">
<stop offset="0" stop-color="#c85a20"/><stop offset="0.08" stop-color="#e8c020"/><stop offset="0.17" stop-color="#70c850"/><stop offset="0.3" stop-color="#40c0e0"/><stop offset="0.5" stop-color="#3072d8"/><stop offset="0.72" stop-color="#2a30b0"/><stop offset="1" stop-color="#30147c"/></radialGradient>
<radialGradient id="gnm2" cx="0.5" cy="0.5" r="0.6">
<stop offset="0" stop-color="#7ac0e0"/><stop offset="0.4" stop-color="#3a5cc0"/><stop offset="1" stop-color="#1e2060"/></radialGradient>
</defs>
<rect x="265.5" y="307.6" width="52" height="50.5" fill="#fff" stroke="#5a5a5a" stroke-width="1"/>
<line x1="265.50" y1="307.60" x2="317.50" y2="307.60" stroke="#555" stroke-width="1.5"/>
<rect x="294.7" y="308.4" width="18.8" height="27.3" fill="none" stroke="#444" stroke-width="0.9"/>
<rect x="274.6" y="336.9" width="19.5" height="18" fill="none" stroke="#444" stroke-width="0.9"/>
<circle cx="302.60" cy="324.05" r="0.4" fill="#3a1a8a"/>
<circle cx="298.29" cy="322.76" r="0.4" fill="#3a1a8a"/>
<circle cx="301.11" cy="316.49" r="0.4" fill="#3a1a8a"/>
<circle cx="310.18" cy="318.59" r="0.4" fill="#3a1a8a"/>
<circle cx="302.02" cy="321.45" r="0.4" fill="#3a1a8a"/>
<circle cx="306.93" cy="317.65" r="0.4" fill="#3a1a8a"/>
<circle cx="304.67" cy="312.93" r="0.4" fill="#3a1a8a"/>
<circle cx="300.66" cy="315.61" r="0.4" fill="#3a1a8a"/>
<circle cx="296.60" cy="310.26" r="0.4" fill="#3a1a8a"/>
<circle cx="295.37" cy="316.61" r="0.4" fill="#3a1a8a"/>
<circle cx="301.48" cy="316.20" r="0.4" fill="#3a1a8a"/>
<circle cx="302.49" cy="311.12" r="0.4" fill="#3a1a8a"/>
<circle cx="301.87" cy="318.99" r="0.4" fill="#3a1a8a"/>
<circle cx="305.35" cy="313.57" r="0.4" fill="#3a1a8a"/>
<circle cx="300.52" cy="307.72" r="0.4" fill="#3a1a8a"/>
<circle cx="300.08" cy="306.82" r="0.4" fill="#3a1a8a"/>
<circle cx="296.24" cy="323.31" r="0.4" fill="#3a1a8a"/>
<circle cx="292.95" cy="321.79" r="0.4" fill="#3a1a8a"/>
<circle cx="303.58" cy="316.24" r="0.4" fill="#3a1a8a"/>
<circle cx="304.13" cy="320.44" r="0.4" fill="#3a1a8a"/>
<circle cx="306.59" cy="316.65" r="0.4" fill="#3a1a8a"/>
<circle cx="299.71" cy="314.78" r="0.4" fill="#3a1a8a"/>
<circle cx="298.06" cy="317.58" r="0.4" fill="#3a1a8a"/>
<circle cx="298.90" cy="323.14" r="0.4" fill="#3a1a8a"/>
<circle cx="294.35" cy="312.33" r="0.4" fill="#3a1a8a"/>
<circle cx="298.20" cy="307.34" r="0.4" fill="#3a1a8a"/>
<circle cx="310.19" cy="305.76" r="0.4" fill="#3a1a8a"/>
<circle cx="301.01" cy="315.17" r="0.4" fill="#3a1a8a"/>
<circle cx="309.15" cy="307.87" r="0.4" fill="#3a1a8a"/>
<circle cx="306.70" cy="314.14" r="0.4" fill="#3a1a8a"/>
<circle cx="301.55" cy="314.45" r="0.4" fill="#3a1a8a"/>
<circle cx="304.89" cy="312.11" r="0.4" fill="#3a1a8a"/>
<circle cx="301.87" cy="319.57" r="0.4" fill="#3a1a8a"/>
<circle cx="309.93" cy="305.77" r="0.4" fill="#3a1a8a"/>
<circle cx="308.61" cy="322.54" r="0.4" fill="#3a1a8a"/>
<circle cx="300.17" cy="319.32" r="0.4" fill="#3a1a8a"/>
<circle cx="300.24" cy="326.03" r="0.4" fill="#3a1a8a"/>
<circle cx="303.08" cy="316.72" r="0.4" fill="#3a1a8a"/>
<circle cx="301.24" cy="316.80" r="0.4" fill="#3a1a8a"/>
<circle cx="301.46" cy="313.41" r="0.4" fill="#3a1a8a"/>
<circle cx="310.85" cy="308.25" r="0.4" fill="#3a1a8a"/>
<circle cx="287.06" cy="317.19" r="0.4" fill="#3a1a8a"/>
<circle cx="301.58" cy="319.66" r="0.4" fill="#3a1a8a"/>
<circle cx="301.34" cy="317.06" r="0.4" fill="#3a1a8a"/>
<circle cx="303.60" cy="322.64" r="0.4" fill="#3a1a8a"/>
<circle cx="300.32" cy="315.94" r="0.4" fill="#3a1a8a"/>
<circle cx="310.35" cy="320.45" r="0.4" fill="#3a1a8a"/>
<circle cx="298.06" cy="329.42" r="0.4" fill="#3a1a8a"/>
<circle cx="305.46" cy="314.86" r="0.4" fill="#3a1a8a"/>
<circle cx="297.27" cy="319.29" r="0.4" fill="#3a1a8a"/>
<circle cx="298.70" cy="312.51" r="0.4" fill="#3a1a8a"/>
<circle cx="296.76" cy="315.27" r="0.4" fill="#3a1a8a"/>
<circle cx="306.85" cy="315.63" r="0.4" fill="#3a1a8a"/>
<circle cx="296.11" cy="321.14" r="0.4" fill="#3a1a8a"/>
<circle cx="302.48" cy="322.02" r="0.4" fill="#3a1a8a"/>
<circle cx="307.25" cy="316.96" r="0.4" fill="#3a1a8a"/>
<circle cx="301.59" cy="317.57" r="0.4" fill="#3a1a8a"/>
<circle cx="297.43" cy="321.14" r="0.4" fill="#3a1a8a"/>
<circle cx="307.96" cy="318.67" r="0.4" fill="#3a1a8a"/>
<circle cx="301.20" cy="316.50" r="0.4" fill="#3a1a8a"/>
<circle cx="298.92" cy="313.78" r="0.4" fill="#3a1a8a"/>
<circle cx="300.52" cy="313.59" r="0.4" fill="#3a1a8a"/>
<circle cx="300.36" cy="309.91" r="0.4" fill="#3a1a8a"/>
<circle cx="303.67" cy="318.05" r="0.4" fill="#3a1a8a"/>
<circle cx="297.36" cy="306.31" r="0.4" fill="#3a1a8a"/>
<circle cx="302.17" cy="323.32" r="0.4" fill="#3a1a8a"/>
<circle cx="299.12" cy="315.39" r="0.4" fill="#3a1a8a"/>
<circle cx="299.81" cy="321.07" r="0.4" fill="#3a1a8a"/>
<circle cx="298.35" cy="322.73" r="0.4" fill="#3a1a8a"/>
<circle cx="300.93" cy="322.42" r="0.4" fill="#3a1a8a"/>
<circle cx="290.31" cy="338.55" r="0.45" fill="#2e1a8a"/>
<circle cx="278.75" cy="336.15" r="0.45" fill="#2e1a8a"/>
<circle cx="291.10" cy="336.43" r="0.45" fill="#2e1a8a"/>
<circle cx="288.45" cy="335.47" r="0.45" fill="#2e1a8a"/>
<circle cx="279.05" cy="334.98" r="0.45" fill="#2e1a8a"/>
<circle cx="292.39" cy="333.88" r="0.45" fill="#2e1a8a"/>
<circle cx="279.42" cy="334.55" r="0.45" fill="#2e1a8a"/>
<circle cx="276.63" cy="333.81" r="0.45" fill="#2e1a8a"/>
<circle cx="284.24" cy="337.55" r="0.45" fill="#2e1a8a"/>
<circle cx="275.59" cy="333.80" r="0.45" fill="#2e1a8a"/>
<circle cx="291.18" cy="334.68" r="0.45" fill="#2e1a8a"/>
<circle cx="274.24" cy="334.24" r="0.45" fill="#2e1a8a"/>
<circle cx="290.85" cy="336.30" r="0.45" fill="#2e1a8a"/>
<circle cx="281.49" cy="335.04" r="0.45" fill="#2e1a8a"/>
<circle cx="294.02" cy="336.59" r="0.45" fill="#2e1a8a"/>
<circle cx="293.00" cy="336.63" r="0.45" fill="#2e1a8a"/>
<circle cx="281.86" cy="333.01" r="0.45" fill="#2e1a8a"/>
<circle cx="289.64" cy="337.63" r="0.45" fill="#2e1a8a"/>
<circle cx="287.57" cy="335.19" r="0.45" fill="#2e1a8a"/>
<circle cx="276.69" cy="336.34" r="0.45" fill="#2e1a8a"/>
<circle cx="285.72" cy="335.83" r="0.45" fill="#2e1a8a"/>
<circle cx="293.59" cy="339.34" r="0.45" fill="#2e1a8a"/>
<circle cx="294.10" cy="339.23" r="0.45" fill="#2e1a8a"/>
<circle cx="271.33" cy="338.58" r="0.45" fill="#2e1a8a"/>
<circle cx="275.30" cy="337.23" r="0.45" fill="#2e1a8a"/>
<circle cx="281.34" cy="338.74" r="0.45" fill="#2e1a8a"/>
<circle cx="286.30" cy="337.16" r="0.45" fill="#2e1a8a"/>
<circle cx="282.93" cy="337.52" r="0.45" fill="#2e1a8a"/>
<circle cx="279.80" cy="337.14" r="0.45" fill="#2e1a8a"/>
<circle cx="275.28" cy="338.37" r="0.45" fill="#2e1a8a"/>
<circle cx="294.04" cy="335.47" r="0.45" fill="#2e1a8a"/>
<circle cx="286.72" cy="339.30" r="0.45" fill="#2e1a8a"/>
<circle cx="272.25" cy="336.67" r="0.45" fill="#2e1a8a"/>
<circle cx="281.57" cy="335.25" r="0.45" fill="#2e1a8a"/>
<circle cx="290.41" cy="335.96" r="0.45" fill="#2e1a8a"/>
<circle cx="274.12" cy="336.49" r="0.45" fill="#2e1a8a"/>
<circle cx="295.37" cy="336.91" r="0.45" fill="#2e1a8a"/>
<circle cx="278.90" cy="335.96" r="0.45" fill="#2e1a8a"/>
<circle cx="279.78" cy="335.22" r="0.45" fill="#2e1a8a"/>
<circle cx="275.78" cy="334.80" r="0.45" fill="#2e1a8a"/>
<circle cx="274.09" cy="334.11" r="0.45" fill="#2e1a8a"/>
<circle cx="273.00" cy="335.63" r="0.45" fill="#2e1a8a"/>
<circle cx="280.33" cy="334.29" r="0.45" fill="#2e1a8a"/>
<circle cx="291.03" cy="338.21" r="0.45" fill="#2e1a8a"/>
<circle cx="281.79" cy="337.80" r="0.45" fill="#2e1a8a"/>
<circle cx="281.51" cy="337.85" r="0.45" fill="#2e1a8a"/>
<circle cx="282.52" cy="336.56" r="0.45" fill="#2e1a8a"/>
<circle cx="272.79" cy="334.52" r="0.45" fill="#2e1a8a"/>
<circle cx="281.65" cy="333.77" r="0.45" fill="#2e1a8a"/>
<circle cx="293.45" cy="339.08" r="0.45" fill="#2e1a8a"/>
<circle cx="277.55" cy="337.30" r="0.45" fill="#2e1a8a"/>
<circle cx="287.56" cy="336.68" r="0.45" fill="#2e1a8a"/>
<circle cx="290.81" cy="337.79" r="0.45" fill="#2e1a8a"/>
<circle cx="273.58" cy="338.76" r="0.45" fill="#2e1a8a"/>
<circle cx="271.12" cy="334.79" r="0.45" fill="#2e1a8a"/>
<circle cx="273.29" cy="334.33" r="0.45" fill="#2e1a8a"/>
<circle cx="293.01" cy="336.65" r="0.45" fill="#2e1a8a"/>
<circle cx="274.03" cy="336.81" r="0.45" fill="#2e1a8a"/>
<circle cx="287.84" cy="338.54" r="0.45" fill="#2e1a8a"/>
<circle cx="290.97" cy="333.12" r="0.45" fill="#2e1a8a"/>
<circle cx="290.19" cy="333.97" r="0.45" fill="#2e1a8a"/>
<circle cx="289.72" cy="336.68" r="0.45" fill="#2e1a8a"/>
<circle cx="272.53" cy="337.43" r="0.45" fill="#2e1a8a"/>
<circle cx="277.05" cy="334.66" r="0.45" fill="#2e1a8a"/>
<circle cx="277.25" cy="334.50" r="0.45" fill="#2e1a8a"/>
<circle cx="280.19" cy="334.72" r="0.45" fill="#2e1a8a"/>
<circle cx="279.76" cy="337.08" r="0.45" fill="#2e1a8a"/>
<circle cx="295.33" cy="336.17" r="0.45" fill="#2e1a8a"/>
<circle cx="289.69" cy="337.81" r="0.45" fill="#2e1a8a"/>
<circle cx="287.85" cy="338.58" r="0.45" fill="#2e1a8a"/>
<circle cx="283.09" cy="334.37" r="0.45" fill="#2e1a8a"/>
<circle cx="273.40" cy="339.17" r="0.45" fill="#2e1a8a"/>
<circle cx="293.92" cy="338.22" r="0.45" fill="#2e1a8a"/>
<circle cx="275.65" cy="336.31" r="0.45" fill="#2e1a8a"/>
<circle cx="275.98" cy="335.31" r="0.45" fill="#2e1a8a"/>
<circle cx="288.28" cy="337.21" r="0.45" fill="#2e1a8a"/>
<circle cx="278.40" cy="336.96" r="0.45" fill="#2e1a8a"/>
<circle cx="285.62" cy="334.91" r="0.45" fill="#2e1a8a"/>
<circle cx="276.44" cy="334.69" r="0.45" fill="#2e1a8a"/>
<circle cx="275.31" cy="336.24" r="0.45" fill="#2e1a8a"/>
<circle cx="279.05" cy="336.63" r="0.45" fill="#2e1a8a"/>
<circle cx="282.99" cy="337.38" r="0.45" fill="#2e1a8a"/>
<circle cx="282.70" cy="338.01" r="0.45" fill="#2e1a8a"/>
<circle cx="283.03" cy="339.06" r="0.45" fill="#2e1a8a"/>
<circle cx="292.42" cy="338.61" r="0.45" fill="#2e1a8a"/>
<circle cx="282.68" cy="334.97" r="0.45" fill="#2e1a8a"/>
<circle cx="276.87" cy="336.98" r="0.45" fill="#2e1a8a"/>
<circle cx="292.35" cy="334.15" r="0.45" fill="#2e1a8a"/>
<circle cx="275.74" cy="336.56" r="0.45" fill="#2e1a8a"/>
<circle cx="292.46" cy="337.53" r="0.45" fill="#2e1a8a"/>
<circle cx="285.00" cy="330.00" r="0.4" fill="#555"/>
<circle cx="287.00" cy="332.00" r="0.4" fill="#555"/>
<circle cx="289.00" cy="331.00" r="0.4" fill="#555"/>
<circle cx="291.00" cy="333.00" r="0.4" fill="#555"/>
<circle cx="292.00" cy="334.50" r="0.4" fill="#555"/>
<circle cx="288.00" cy="334.00" r="0.4" fill="#555"/>
<circle cx="284.00" cy="333.50" r="0.4" fill="#555"/>
<circle cx="281.00" cy="334.00" r="0.4" fill="#555"/>
<circle cx="296.00" cy="331.00" r="0.4" fill="#555"/>
<circle cx="297.00" cy="329.00" r="0.4" fill="#555"/>
<circle cx="298.00" cy="333.00" r="0.4" fill="#555"/>
<circle cx="290.00" cy="329.00" r="0.4" fill="#555"/>
<circle cx="293.00" cy="327.00" r="0.4" fill="#555"/>
<circle cx="279.00" cy="333.00" r="0.4" fill="#555"/>
<circle cx="276.00" cy="334.50" r="0.4" fill="#555"/>
<circle cx="272.00" cy="312.00" r="0.4" fill="#555"/>
<circle cx="277.00" cy="316.00" r="0.4" fill="#555"/>
<circle cx="296.00" cy="336.00" r="0.4" fill="#555"/>
<circle cx="299.00" cy="336.50" r="0.4" fill="#555"/>
<circle cx="301.00" cy="327.00" r="0.4" fill="#555"/>
<ellipse cx="302.2" cy="317.4" rx="5.7" ry="6.9" fill="url(#gmm)" transform="rotate(22 302.2 317.4)"/>
<path d="M272.8,336.4 C280,335.6 289,335.6 295,336.6 C295.4,340.5 293.2,346.5 289.6,352.6 L278.4,352.9 C276.8,348 274.6,341.5 272.8,336.4 Z" fill="url(#gnm)"/>
<circle cx="271.00" cy="336.50" r="0.6" fill="#3a2090"/>
<circle cx="273.00" cy="335.80" r="0.6" fill="#3a2090"/>
<circle cx="277.00" cy="335.20" r="0.6" fill="#3a2090"/>
<circle cx="283.00" cy="335.00" r="0.6" fill="#3a2090"/>
<circle cx="289.00" cy="335.20" r="0.6" fill="#3a2090"/>
<circle cx="293.00" cy="335.60" r="0.6" fill="#3a2090"/>
<circle cx="295.60" cy="338.00" r="0.6" fill="#3a2090"/>
<circle cx="296.00" cy="341.00" r="0.6" fill="#3a2090"/>
<circle cx="295.50" cy="345.00" r="0.6" fill="#3a2090"/>
<circle cx="294.00" cy="349.00" r="0.6" fill="#3a2090"/>
<circle cx="270.80" cy="339.00" r="0.6" fill="#3a2090"/>
<circle cx="273.00" cy="341.00" r="0.6" fill="#3a2090"/>
<circle cx="274.00" cy="346.00" r="0.6" fill="#3a2090"/>
<circle cx="276.00" cy="351.00" r="0.6" fill="#3a2090"/>
<text x="266.30" y="323.70" font-size="6.4" fill="#1a1a1a" stroke="#1a1a1a" stroke-width="0.12" textLength="24.60" lengthAdjust="spacingAndGlyphs">WCM-3.1</text>
<text x="305.20" y="342.50" font-size="6.4" fill="#1a1a1a" stroke="#1a1a1a" stroke-width="0.12" textLength="9.40" lengthAdjust="spacingAndGlyphs">MM</text>
<text x="294.60" y="357.20" font-size="6.4" fill="#1a1a1a" stroke="#1a1a1a" stroke-width="0.12" textLength="20.60" lengthAdjust="spacingAndGlyphs">non-MM</text>
<line x1="265.50" y1="358.20" x2="317.50" y2="358.20" stroke="#222" stroke-width="1.2"/>
<rect x="265.4" y="361.1" width="51.9" height="50.5" fill="#fff" stroke="#5a5a5a" stroke-width="1"/>
<rect x="270.6" y="362.2" width="27.9" height="16.2" fill="none" stroke="#444" stroke-width="0.9"/>
<rect x="266.4" y="402" width="11" height="9.6" fill="none" stroke="#444" stroke-width="0.9"/>
<ellipse cx="271.8" cy="407" rx="5" ry="3.8" fill="url(#gnm2)"/>
<ellipse cx="271.8" cy="407.2" rx="2.4" ry="1.5" fill="none" stroke="#8ac8e0" stroke-width="0.8"/>
<circle cx="275.00" cy="402.00" r="0.55" fill="#222"/>
<circle cx="277.00" cy="404.00" r="0.55" fill="#222"/>
<circle cx="279.00" cy="405.00" r="0.55" fill="#222"/>
<circle cx="276.00" cy="400.00" r="0.55" fill="#222"/>
<circle cx="281.00" cy="401.00" r="0.55" fill="#222"/>
<circle cx="273.00" cy="403.00" r="0.55" fill="#222"/>
<circle cx="284.00" cy="403.00" r="0.55" fill="#222"/>
<circle cx="278.00" cy="399.00" r="0.55" fill="#222"/>
<circle cx="281.00" cy="404.50" r="0.55" fill="#222"/>
<circle cx="283.00" cy="406.00" r="0.55" fill="#222"/>
<circle cx="278.40" cy="372.00" r="0.55" fill="#222"/>
<circle cx="280.00" cy="371.00" r="0.55" fill="#222"/>
<circle cx="271.50" cy="383.00" r="0.55" fill="#222"/>
<circle cx="271.30" cy="389.50" r="0.55" fill="#222"/>
<circle cx="275.50" cy="397.00" r="0.55" fill="#222"/>
<circle cx="279.00" cy="401.50" r="0.55" fill="#222"/>
<circle cx="282.00" cy="402.50" r="0.55" fill="#222"/>
<circle cx="283.80" cy="400.00" r="0.55" fill="#222"/>
<circle cx="270.00" cy="401.00" r="0.55" fill="#222"/>
<circle cx="268.00" cy="400.50" r="0.55" fill="#222"/>
<circle cx="277.00" cy="406.00" r="0.55" fill="#222"/>
<circle cx="279.50" cy="408.00" r="0.55" fill="#222"/>
<circle cx="268.00" cy="410.50" r="0.55" fill="#222"/>
<circle cx="275.00" cy="410.50" r="0.55" fill="#222"/>
<text x="299.50" y="368.60" font-size="6.4" fill="#1a1a1a" stroke="#1a1a1a" stroke-width="0.12" textLength="10.20" lengthAdjust="spacingAndGlyphs">MM</text>
<text x="290.00" y="386.60" font-size="6.4" fill="#1a1a1a" stroke="#1a1a1a" stroke-width="0.12" textLength="25.20" lengthAdjust="spacingAndGlyphs">WCM-3.2</text>
<text x="284.50" y="408.50" font-size="6.4" fill="#1a1a1a" stroke="#1a1a1a" stroke-width="0.12" textLength="22.50" lengthAdjust="spacingAndGlyphs">non-MM</text>
<line x1="265.40" y1="411.60" x2="317.30" y2="411.60" stroke="#333" stroke-width="1.1"/>
<line x1="261.20" y1="417.80" x2="261.20" y2="401.50" stroke="#111" stroke-width="1"/>
<path d="M259.4,402 L263,402 L261.2,398.8 Z" fill="#111"/>
<line x1="261.20" y1="417.80" x2="280.00" y2="417.80" stroke="#111" stroke-width="1"/>
<path d="M279.6,416 L279.6,419.6 L283,417.8 Z" fill="#111"/>
<text x="264.00" y="395.60" font-size="8.4" fill="#1a1a1a" stroke="#1a1a1a" stroke-width="0.12" textLength="18.40" lengthAdjust="spacingAndGlyphs" transform="rotate(-90 264.00 395.60)">CD138</text>
<text x="285.30" y="418.60" font-size="8.4" fill="#1a1a1a" stroke="#1a1a1a" stroke-width="0.12" textLength="15.50" lengthAdjust="spacingAndGlyphs">CD38</text>
<text x="373.80" y="305.10" font-size="8.6" fill="#1a1a1a" stroke="#1a1a1a" stroke-width="0.12" textLength="31.00" lengthAdjust="spacingAndGlyphs">BM MM</text>
<line x1="369.90" y1="311.00" x2="369.90" y2="396.20" stroke="#111" stroke-width="1.1"/>
<line x1="369.40" y1="395.70" x2="407.50" y2="395.70" stroke="#111" stroke-width="1.1"/>
<line x1="367.30" y1="313.50" x2="369.90" y2="313.50" stroke="#111" stroke-width="1"/>
<text x="364.40" y="316.10" font-size="7.5" fill="#222" stroke="#222" stroke-width="0.12" text-anchor="end">100</text>
<line x1="368.50" y1="324.99" x2="369.90" y2="324.99" stroke="#111" stroke-width="0.6"/>
<line x1="368.50" y1="322.10" x2="369.90" y2="322.10" stroke="#111" stroke-width="0.6"/>
<line x1="368.50" y1="320.04" x2="369.90" y2="320.04" stroke="#111" stroke-width="0.6"/>
<line x1="368.50" y1="318.45" x2="369.90" y2="318.45" stroke="#111" stroke-width="0.6"/>
<line x1="368.50" y1="317.15" x2="369.90" y2="317.15" stroke="#111" stroke-width="0.6"/>
<line x1="368.50" y1="316.05" x2="369.90" y2="316.05" stroke="#111" stroke-width="0.6"/>
<line x1="368.50" y1="315.09" x2="369.90" y2="315.09" stroke="#111" stroke-width="0.6"/>
<line x1="368.50" y1="314.25" x2="369.90" y2="314.25" stroke="#111" stroke-width="0.6"/>
<line x1="367.30" y1="329.94" x2="369.90" y2="329.94" stroke="#111" stroke-width="1"/>
<text x="364.40" y="332.54" font-size="7.5" fill="#222" stroke="#222" stroke-width="0.12" text-anchor="end">10</text>
<line x1="368.50" y1="341.43" x2="369.90" y2="341.43" stroke="#111" stroke-width="0.6"/>
<line x1="368.50" y1="338.54" x2="369.90" y2="338.54" stroke="#111" stroke-width="0.6"/>
<line x1="368.50" y1="336.48" x2="369.90" y2="336.48" stroke="#111" stroke-width="0.6"/>
<line x1="368.50" y1="334.89" x2="369.90" y2="334.89" stroke="#111" stroke-width="0.6"/>
<line x1="368.50" y1="333.59" x2="369.90" y2="333.59" stroke="#111" stroke-width="0.6"/>
<line x1="368.50" y1="332.49" x2="369.90" y2="332.49" stroke="#111" stroke-width="0.6"/>
<line x1="368.50" y1="331.53" x2="369.90" y2="331.53" stroke="#111" stroke-width="0.6"/>
<line x1="368.50" y1="330.69" x2="369.90" y2="330.69" stroke="#111" stroke-width="0.6"/>
<line x1="367.30" y1="346.38" x2="369.90" y2="346.38" stroke="#111" stroke-width="1"/>
<text x="364.40" y="348.98" font-size="7.5" fill="#222" stroke="#222" stroke-width="0.12" text-anchor="end">1</text>
<line x1="368.50" y1="357.87" x2="369.90" y2="357.87" stroke="#111" stroke-width="0.6"/>
<line x1="368.50" y1="354.98" x2="369.90" y2="354.98" stroke="#111" stroke-width="0.6"/>
<line x1="368.50" y1="352.92" x2="369.90" y2="352.92" stroke="#111" stroke-width="0.6"/>
<line x1="368.50" y1="351.33" x2="369.90" y2="351.33" stroke="#111" stroke-width="0.6"/>
<line x1="368.50" y1="350.03" x2="369.90" y2="350.03" stroke="#111" stroke-width="0.6"/>
<line x1="368.50" y1="348.93" x2="369.90" y2="348.93" stroke="#111" stroke-width="0.6"/>
<line x1="368.50" y1="347.97" x2="369.90" y2="347.97" stroke="#111" stroke-width="0.6"/>
<line x1="368.50" y1="347.13" x2="369.90" y2="347.13" stroke="#111" stroke-width="0.6"/>
<line x1="367.30" y1="362.82" x2="369.90" y2="362.82" stroke="#111" stroke-width="1"/>
<text x="364.40" y="365.42" font-size="7.5" fill="#222" stroke="#222" stroke-width="0.12" text-anchor="end">0.1</text>
<line x1="368.50" y1="374.31" x2="369.90" y2="374.31" stroke="#111" stroke-width="0.6"/>
<line x1="368.50" y1="371.42" x2="369.90" y2="371.42" stroke="#111" stroke-width="0.6"/>
<line x1="368.50" y1="369.36" x2="369.90" y2="369.36" stroke="#111" stroke-width="0.6"/>
<line x1="368.50" y1="367.77" x2="369.90" y2="367.77" stroke="#111" stroke-width="0.6"/>
<line x1="368.50" y1="366.47" x2="369.90" y2="366.47" stroke="#111" stroke-width="0.6"/>
<line x1="368.50" y1="365.37" x2="369.90" y2="365.37" stroke="#111" stroke-width="0.6"/>
<line x1="368.50" y1="364.41" x2="369.90" y2="364.41" stroke="#111" stroke-width="0.6"/>
<line x1="368.50" y1="363.57" x2="369.90" y2="363.57" stroke="#111" stroke-width="0.6"/>
<line x1="367.30" y1="379.26" x2="369.90" y2="379.26" stroke="#111" stroke-width="1"/>
<text x="364.40" y="381.86" font-size="7.5" fill="#222" stroke="#222" stroke-width="0.12" text-anchor="end">0.01</text>
<line x1="368.50" y1="390.75" x2="369.90" y2="390.75" stroke="#111" stroke-width="0.6"/>
<line x1="368.50" y1="387.86" x2="369.90" y2="387.86" stroke="#111" stroke-width="0.6"/>
<line x1="368.50" y1="385.80" x2="369.90" y2="385.80" stroke="#111" stroke-width="0.6"/>
<line x1="368.50" y1="384.21" x2="369.90" y2="384.21" stroke="#111" stroke-width="0.6"/>
<line x1="368.50" y1="382.91" x2="369.90" y2="382.91" stroke="#111" stroke-width="0.6"/>
<line x1="368.50" y1="381.81" x2="369.90" y2="381.81" stroke="#111" stroke-width="0.6"/>
<line x1="368.50" y1="380.85" x2="369.90" y2="380.85" stroke="#111" stroke-width="0.6"/>
<line x1="368.50" y1="380.01" x2="369.90" y2="380.01" stroke="#111" stroke-width="0.6"/>
<line x1="367.30" y1="395.70" x2="369.90" y2="395.70" stroke="#111" stroke-width="1"/>
<text x="364.40" y="398.30" font-size="7.5" fill="#222" stroke="#222" stroke-width="0.12" text-anchor="end">0.001</text>
<rect x="377.10" y="332.60" width="10.70" height="63.10" fill="#c9c9c9"/>
<rect x="394.50" y="379.90" width="11.00" height="15.80" fill="#c9c9c9"/>
<line x1="379.50" y1="332.20" x2="385.50" y2="332.20" stroke="#222" stroke-width="1"/>
<line x1="381.90" y1="395.70" x2="381.90" y2="398.20" stroke="#111" stroke-width="1"/>
<line x1="399.60" y1="395.70" x2="399.60" y2="398.20" stroke="#111" stroke-width="1"/>
<text x="384.40" y="407.20" font-size="7.8" fill="#1a1a1a" stroke="#1a1a1a" stroke-width="0.12" text-anchor="end" textLength="28.60" lengthAdjust="spacingAndGlyphs" transform="rotate(-45 384.40 407.20)">WCM3.1</text>
<text x="402.00" y="407.20" font-size="7.8" fill="#1a1a1a" stroke="#1a1a1a" stroke-width="0.12" text-anchor="end" textLength="28.60" lengthAdjust="spacingAndGlyphs" transform="rotate(-45 402.00 407.20)">WCM3.2</text>
<text x="339.00" y="381.60" font-size="8.4" fill="#1a1a1a" textLength="56.60" lengthAdjust="spacingAndGlyphs" font-weight="bold" transform="rotate(-90 339.00 381.60)">% MM (of live cells)</text>
<text x="463.80" y="305.00" font-size="8.6" fill="#1a1a1a" stroke="#1a1a1a" stroke-width="0.12" textLength="41.50" lengthAdjust="spacingAndGlyphs">MM CD38</text>
<line x1="465.10" y1="310.50" x2="465.10" y2="396.20" stroke="#111" stroke-width="1.1"/>
<line x1="464.60" y1="395.60" x2="503.60" y2="395.60" stroke="#111" stroke-width="1.1"/>
<line x1="462.50" y1="312.30" x2="465.10" y2="312.30" stroke="#111" stroke-width="1"/>
<text x="459.30" y="314.90" font-size="7.3" fill="#222" stroke="#222" stroke-width="0.12" text-anchor="end">10,000</text>
<line x1="463.70" y1="326.86" x2="465.10" y2="326.86" stroke="#111" stroke-width="0.6"/>
<line x1="463.70" y1="323.19" x2="465.10" y2="323.19" stroke="#111" stroke-width="0.6"/>
<line x1="463.70" y1="320.59" x2="465.10" y2="320.59" stroke="#111" stroke-width="0.6"/>
<line x1="463.70" y1="318.57" x2="465.10" y2="318.57" stroke="#111" stroke-width="0.6"/>
<line x1="463.70" y1="316.92" x2="465.10" y2="316.92" stroke="#111" stroke-width="0.6"/>
<line x1="463.70" y1="315.53" x2="465.10" y2="315.53" stroke="#111" stroke-width="0.6"/>
<line x1="463.70" y1="314.32" x2="465.10" y2="314.32" stroke="#111" stroke-width="0.6"/>
<line x1="463.70" y1="313.25" x2="465.10" y2="313.25" stroke="#111" stroke-width="0.6"/>
<line x1="462.50" y1="333.13" x2="465.10" y2="333.13" stroke="#111" stroke-width="1"/>
<text x="459.30" y="335.73" font-size="7.3" fill="#222" stroke="#222" stroke-width="0.12" text-anchor="end">1,000</text>
<line x1="463.70" y1="347.69" x2="465.10" y2="347.69" stroke="#111" stroke-width="0.6"/>
<line x1="463.70" y1="344.02" x2="465.10" y2="344.02" stroke="#111" stroke-width="0.6"/>
<line x1="463.70" y1="341.42" x2="465.10" y2="341.42" stroke="#111" stroke-width="0.6"/>
<line x1="463.70" y1="339.40" x2="465.10" y2="339.40" stroke="#111" stroke-width="0.6"/>
<line x1="463.70" y1="337.75" x2="465.10" y2="337.75" stroke="#111" stroke-width="0.6"/>
<line x1="463.70" y1="336.36" x2="465.10" y2="336.36" stroke="#111" stroke-width="0.6"/>
<line x1="463.70" y1="335.15" x2="465.10" y2="335.15" stroke="#111" stroke-width="0.6"/>
<line x1="463.70" y1="334.08" x2="465.10" y2="334.08" stroke="#111" stroke-width="0.6"/>
<line x1="462.50" y1="353.96" x2="465.10" y2="353.96" stroke="#111" stroke-width="1"/>
<text x="459.30" y="356.56" font-size="7.3" fill="#222" stroke="#222" stroke-width="0.12" text-anchor="end">100</text>
<line x1="463.70" y1="368.52" x2="465.10" y2="368.52" stroke="#111" stroke-width="0.6"/>
<line x1="463.70" y1="364.85" x2="465.10" y2="364.85" stroke="#111" stroke-width="0.6"/>
<line x1="463.70" y1="362.25" x2="465.10" y2="362.25" stroke="#111" stroke-width="0.6"/>
<line x1="463.70" y1="360.23" x2="465.10" y2="360.23" stroke="#111" stroke-width="0.6"/>
<line x1="463.70" y1="358.58" x2="465.10" y2="358.58" stroke="#111" stroke-width="0.6"/>
<line x1="463.70" y1="357.19" x2="465.10" y2="357.19" stroke="#111" stroke-width="0.6"/>
<line x1="463.70" y1="355.98" x2="465.10" y2="355.98" stroke="#111" stroke-width="0.6"/>
<line x1="463.70" y1="354.91" x2="465.10" y2="354.91" stroke="#111" stroke-width="0.6"/>
<line x1="462.50" y1="374.79" x2="465.10" y2="374.79" stroke="#111" stroke-width="1"/>
<text x="459.30" y="377.39" font-size="7.3" fill="#222" stroke="#222" stroke-width="0.12" text-anchor="end">10</text>
<line x1="463.70" y1="389.35" x2="465.10" y2="389.35" stroke="#111" stroke-width="0.6"/>
<line x1="463.70" y1="385.68" x2="465.10" y2="385.68" stroke="#111" stroke-width="0.6"/>
<line x1="463.70" y1="383.08" x2="465.10" y2="383.08" stroke="#111" stroke-width="0.6"/>
<line x1="463.70" y1="381.06" x2="465.10" y2="381.06" stroke="#111" stroke-width="0.6"/>
<line x1="463.70" y1="379.41" x2="465.10" y2="379.41" stroke="#111" stroke-width="0.6"/>
<line x1="463.70" y1="378.02" x2="465.10" y2="378.02" stroke="#111" stroke-width="0.6"/>
<line x1="463.70" y1="376.81" x2="465.10" y2="376.81" stroke="#111" stroke-width="0.6"/>
<line x1="463.70" y1="375.74" x2="465.10" y2="375.74" stroke="#111" stroke-width="0.6"/>
<line x1="462.50" y1="395.62" x2="465.10" y2="395.62" stroke="#111" stroke-width="1"/>
<text x="459.30" y="398.22" font-size="7.3" fill="#222" stroke="#222" stroke-width="0.12" text-anchor="end">1</text>
<rect x="472.30" y="356.90" width="10.70" height="38.70" fill="#3f4e6a"/>
<rect x="490.10" y="369.20" width="10.70" height="26.40" fill="#3f4e6a"/>
<line x1="477.60" y1="354.20" x2="477.60" y2="357.00" stroke="#222" stroke-width="1"/>
<line x1="475.30" y1="354.20" x2="479.90" y2="354.20" stroke="#222" stroke-width="1"/>
<line x1="477.70" y1="395.60" x2="477.70" y2="398.10" stroke="#111" stroke-width="1"/>
<line x1="495.70" y1="395.60" x2="495.70" y2="398.10" stroke="#111" stroke-width="1"/>
<text x="480.00" y="407.20" font-size="7.8" fill="#1a1a1a" stroke="#1a1a1a" stroke-width="0.12" text-anchor="end" textLength="28.60" lengthAdjust="spacingAndGlyphs" transform="rotate(-45 480.00 407.20)">WCM3.1</text>
<text x="498.20" y="407.20" font-size="7.8" fill="#1a1a1a" stroke="#1a1a1a" stroke-width="0.12" text-anchor="end" textLength="28.60" lengthAdjust="spacingAndGlyphs" transform="rotate(-45 498.20 407.20)">WCM3.2</text>
<text x="431.40" y="389.30" font-size="8.8" fill="#1a1a1a" textLength="72.40" lengthAdjust="spacingAndGlyphs" font-weight="bold" transform="rotate(-90 431.40 389.30)">CD38 MFI (MM/non-MM)</text>
<rect x="0.5" y="0.5" width="519" height="439" fill="none" stroke="#5a5a5a" stroke-width="1"/>
</svg>
</body></html>
